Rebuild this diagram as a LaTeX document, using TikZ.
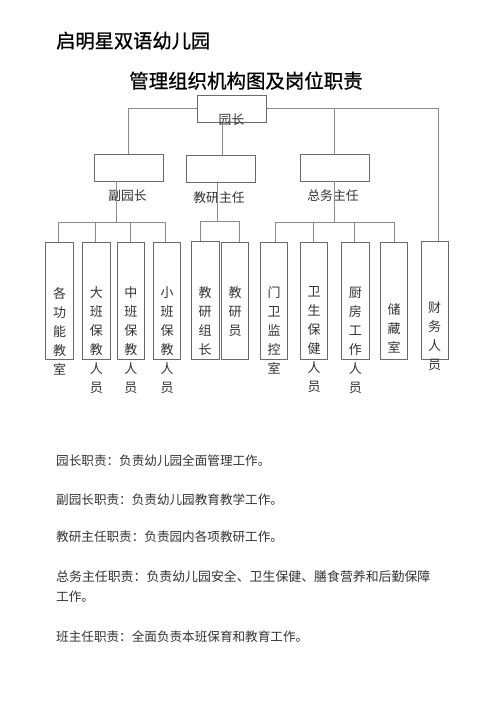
\documentclass[tikz,border=0pt]{standalone}
\usepackage{fontspec}
\setmainfont{Noto Sans CJK SC}
\newfontfamily\titlefont{Noto Sans CJK SC}[FakeBold=0.8]
\definecolor{lncol}{HTML}{8A8A8A}
\definecolor{boxcol}{HTML}{6A6A6A}
\definecolor{txtcol}{HTML}{333333}
\begin{document}
\begin{tikzpicture}[x=1pt,y=-1pt,
  ln/.style={draw=lncol, line width=0.9pt},
  hbox/.style={draw=boxcol, line width=0.9pt, minimum width=69pt, minimum height=27pt, inner sep=0},
  vbox/.style={draw=boxcol, line width=0.9pt, minimum width=27.3pt, minimum height=116.6pt, inner sep=0},
  vtxt/.style={anchor=north, inner sep=0, align=center, text=txtcol, font=\fontsize{13}{19}\selectfont},
  lbl/.style={inner sep=0, text=txtcol, font=\fontsize{12.8}{15}\selectfont},
  para/.style={anchor=west, inner sep=0, text=txtcol, font=\fontsize{12.6}{15}\selectfont}]
\useasboundingbox (0,0) rectangle (500,708);
\fill[white] (0,0) rectangle (500,708);

% titles
\node[anchor=west, inner sep=0, font=\titlefont\fontsize{19.25}{22}\selectfont] (t1) at (56,40.7) {启明星双语幼儿园};
\node[inner sep=0, font=\titlefont\fontsize{19.45}{22}\selectfont] (t2) at (246,80.7) {管理组织机构图及岗位职责};

% level 1 and 2 boxes
\node[hbox, minimum width=69.4pt, minimum height=27.3pt] (yz) at (232,108.7) {};
\node[hbox] (fyz) at (128.8,167.5) {};
\node[hbox, minimum width=68.3pt, minimum height=26.7pt] (jy) at (220.8,169.3) {};
\node[hbox] (zw) at (334.5,167.5) {};

% labels of the boxes
\node[lbl] (lyz) at (231.5,120) {园长};
\node[lbl] (lfyz) at (127.5,196) {副园长};
\node[lbl] (ljy) at (219,197.3) {教研主任};
\node[lbl] (lzw) at (333,196) {总务主任};

% bottom boxes
\node[vbox] (a1) at (59.5,301) {};
\node[vbox] (a2) at (96.35,301) {};
\node[vbox] (a3) at (130.8,301) {};
\node[vbox] (a4) at (167,301) {};
\node[vbox, minimum width=27.7pt, minimum height=118.3pt] (b1) at (205.15,300.15) {};
\node[vbox, minimum width=26.6pt] (b2) at (235,301) {};
\node[vbox] (c1) at (274.2,301) {};
\node[vbox] (c2) at (314.2,301) {};
\node[vbox] (c3) at (355.35,301) {};
\node[vbox] (c4) at (394.2,301) {};
\node[vbox, minimum height=118.3pt] (d) at (434.65,300.15) {};

% vertical texts
\node[vtxt] (ta1) at (59.5,286.8) {各\\功\\能\\教\\室};
\node[vtxt] (ta2) at (96.35,286.8) {大\\班\\保\\教\\人\\员};
\node[vtxt] (ta3) at (130.8,286.8) {中\\班\\保\\教\\人\\员};
\node[vtxt] (ta4) at (167,286.8) {小\\班\\保\\教\\人\\员};
\node[vtxt] (tb1) at (205.15,286) {教\\研\\组\\长};
\node[vtxt] (tb2) at (235,286.8) {教\\研\\员};
\node[vtxt] (tc1) at (274.2,286.8) {门\\卫\\监\\控\\室};
\node[vtxt] (tc2) at (314.2,286.8) {卫\\生\\保\\健\\人\\员};
\node[vtxt] (tc3) at (355.35,286.8) {厨\\房\\工\\作\\人\\员};
\node[vtxt] (tc4) at (394.2,303.5) {储\\藏\\室};
\node[vtxt] (td) at (434.65,301.8) {财\\务\\人\\员};

% connectors level 1 -> 2
\draw[ln] (yz.west) -| (fyz.north);
\draw[ln] (yz.east) -| ([xshift=4pt]d.north);
\draw[ln] (zw.north) -- (zw.north |- yz.east);
\draw[ln] ([xshift=-9.5pt]yz.south) -- ([xshift=-9.5pt]yz.south |- jy.north);

% connectors level 2 -> 3
\coordinate (bf) at (116,222.7);
\coordinate (bj) at (217.7,221.7);
\coordinate (bz) at (334,222.7);
\draw[ln] (fyz.south -| bf) -- (bf);
\draw[ln] ([xshift=-1.2pt]a1.north) |- (bf) -| ([xshift=-1.3pt]a4.north);
\draw[ln] ([xshift=-1.3pt]a2.north) -- ([xshift=-1.3pt]a2.north |- bf);
\draw[ln] ([xshift=-0.8pt]a3.north) -- ([xshift=-0.8pt]a3.north |- bf);
\draw[ln] (jy.south -| bj) -- (bj);
\draw[ln] ([xshift=-4.5pt]b1.north) |- (bj) -| ([xshift=4.3pt]b2.north);
\draw[ln] (zw.south -| bz) -- (bz);
\draw[ln] ([xshift=1.5pt]c1.north) |- (bz) -| (c4.north);
\draw[ln] ([xshift=-0.9pt]c2.north) -- ([xshift=-0.9pt]c2.north |- bz);
\draw[ln] ([xshift=-1.3pt]c3.north) -- ([xshift=-1.3pt]c3.north |- bz);

% duty paragraphs
\node[para] (p1) at (56,460.7) {园长职责：负责幼儿园全面管理工作。};
\node[para] (p2) at (56,499.3) {副园长职责：负责幼儿园教育教学工作。};
\node[para] (p3) at (56,536.7) {教研主任职责：负责园内各项教研工作。};
\node[para, font=\fontsize{12.9}{15}\selectfont] (p4) at (56,576.7) {总务主任职责：负责幼儿园安全、卫生保健、膳食营养和后勤保障};
\node[para] (p5) at (56,596.7) {工作。};
\node[para] (p6) at (56,636.7) {班主任职责：全面负责本班保育和教育工作。};
\end{tikzpicture}
\end{document}
